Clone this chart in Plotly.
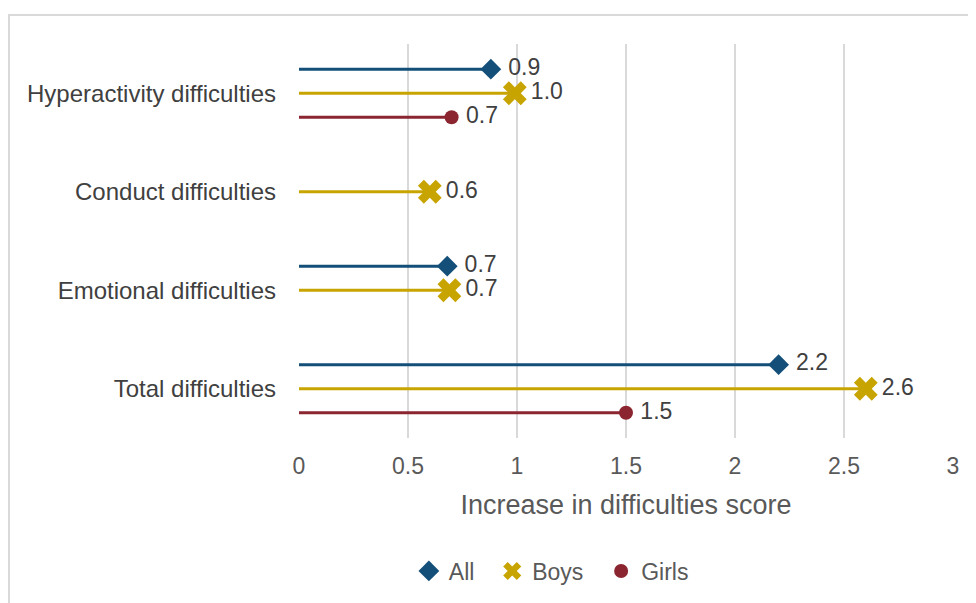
import plotly.graph_objects as go

categories = ["Hyperactivity difficulties", "Conduct difficulties", "Emotional difficulties", "Total difficulties"]
series_names = ["All", "Boys", "Girls"]
all_vals = [0.88, None, 0.68, 2.2]
boys_vals = [0.99, 0.6, 0.69, 2.6]
girls_vals = [0.70, None, None, 1.5]
x_ticks = [0, 0.5, 1, 1.5, 2, 2.5, 3]

series_vals = [all_vals, boys_vals, girls_vals]
colors = ["#134F78", "#C8A400", "#8B2530"]
symbols = ["diamond", "x", "circle"]
sizes = [16, 21, 14]
label_pads = ["\u00a0", "\u200a", "\u2009"]
offsets = [-0.244, 0.0, 0.244]
FONT = "Liberation Sans, Arial"

fig = go.Figure()
for name, vals, col, sym, sz, pad, off in zip(series_names, series_vals, colors, symbols, sizes, label_pads, offsets):
    lx, ly, mx, my, tx = [], [], [], [], []
    for i, v in enumerate(vals):
        if v is None:
            continue
        y = i + off
        lx += [0, v, None]
        ly += [y, y, None]
        mx.append(v)
        my.append(y)
        tx.append(pad + f"{v:.1f}")
    fig.add_trace(go.Scatter(x=lx, y=ly, mode="lines", line=dict(color=col, width=3),
                             showlegend=False, hoverinfo="skip"))
    fig.add_trace(go.Scatter(x=mx, y=my, mode="markers+text", name=name + "\u00a0\u00a0", text=tx,
                             textposition="middle right",
                             textfont=dict(size=23, color="#404040", family=FONT),
                             marker=dict(symbol=sym, size=sz, color=col, line=dict(width=0))))

fig.update_layout(
    width=976, height=603,
    margin=dict(l=291, r=31, t=36, b=173),
    paper_bgcolor="white", plot_bgcolor="white",
    font=dict(family=FONT, size=23, color="#595959"),
    xaxis=dict(range=[0, 3], tickvals=x_ticks, ticktext=[str(t) for t in x_ticks],
               showgrid=True, gridcolor="#D9D9D9", gridwidth=2, zeroline=False,
               showline=False, ticks="", ticklabelstandoff=12,
               tickfont=dict(size=23, color="#595959"),
               title=dict(text="Increase in difficulties score", standoff=17,
                          font=dict(size=27, color="#595959"))),
    yaxis=dict(range=[3.5, -0.5], tickvals=list(range(len(categories))), ticktext=categories,
               showgrid=False, zeroline=False, showline=False, ticks="",
               ticklabelstandoff=22,
               tickfont=dict(size=24, color="#404040")),
    legend=dict(orientation="h", x=0.168, xanchor="left", y=-0.3376, yanchor="middle",
                font=dict(size=23, color="#595959"), itemwidth=30,
                traceorder="normal"),
    shapes=[dict(type="rect", xref="paper", yref="paper",
                 x0=(9 - 299) / 654, x1=1.2, y0=-0.6, y1=(437 - 14) / 394,
                 line=dict(color="#D9D9D9", width=2), layer="below")],
)

fig.write_html("out.html")
